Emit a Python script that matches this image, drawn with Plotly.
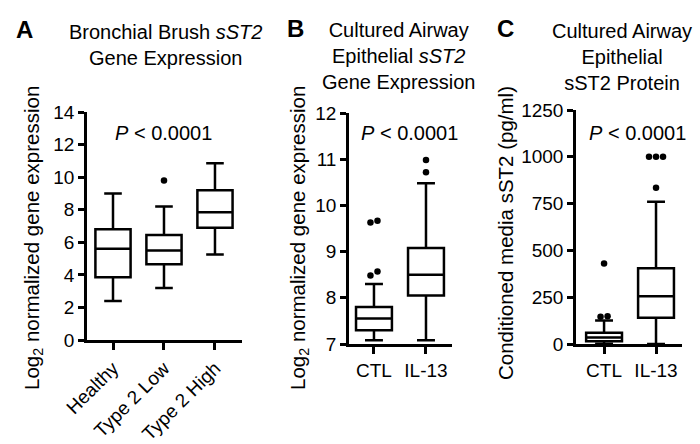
import plotly.graph_objects as go

# ---------------- data ----------------
a_cats = ["Healthy", "Type 2 Low", "Type 2 High"]
a_low = [2.4, 3.2, 5.25]
a_q1 = [3.85, 4.65, 6.9]
a_med = [5.6, 5.5, 7.85]
a_q3 = [6.8, 6.45, 9.2]
a_high = [9.0, 8.2, 10.85]
a_out = [[], [9.8], []]

b_cats = ["CTL", "IL-13"]
b_low = [7.08, 7.08]
b_q1 = [7.3, 8.05]
b_med = [7.55, 8.5]
b_q3 = [7.8, 9.08]
b_high = [8.3, 10.48]
b_out = [[9.67, 9.63, 8.48, 8.57], [10.72, 10.98]]

c_cats = ["CTL", "IL-13"]
c_low = [0, 0]
c_q1 = [15, 140]
c_med = [35, 255]
c_q3 = [60, 405]
c_high = [125, 760]
c_out = [[430, 145, 148], [1000, 1000, 1000, 835]]

a_ticks = [0, 2, 4, 6, 8, 10, 12, 14]
b_ticks = [7, 8, 9, 10, 11, 12]
c_ticks = [0, 250, 500, 750, 1000, 1250]

W, H = 700, 444
FONT = "Arial"
LW = 2.5
FS = 20
TFS = 19


def px(x):
    return x / W


def py(y):
    return 1 - y / H


fig = go.Figure()


def spread(vals, tol, step):
    """Return x offsets so that near-equal outliers sit side by side."""
    idx = sorted(range(len(vals)), key=lambda i: vals[i])
    clusters, cur = [], [idx[0]] if idx else []
    for i in idx[1:]:
        if abs(vals[i] - vals[cur[-1]]) < tol:
            cur.append(i)
        else:
            clusters.append(cur)
            cur = [i]
    if cur:
        clusters.append(cur)
    offs = [0.0] * len(vals)
    for cl in clusters:
        n = len(cl)
        for k, i in enumerate(cl):
            offs[i] = (k - (n - 1) / 2) * step
    return offs


panels = [
    dict(n="", cats=a_cats, low=a_low, q1=a_q1, med=a_med, q3=a_q3, high=a_high,
         out=a_out, ticks=a_ticks, rng=[0, 14], xr=[-0.51, 2.53],
         xd=[87, 242], yd=[340, 112], angle=-45),
    dict(n="2", cats=b_cats, low=b_low, q1=b_q1, med=b_med, q3=b_q3, high=b_high,
         out=b_out, ticks=b_ticks, rng=[7, 12], xr=[-0.48, 1.5],
         xd=[349, 452], yd=[344, 113], angle=0),
    dict(n="3", cats=c_cats, low=c_low, q1=c_q1, med=c_med, q3=c_q3, high=c_high,
         out=c_out, ticks=c_ticks, rng=[0, 1250], xr=[-0.54, 1.5],
         xd=[576, 682], yd=[344, 110], angle=0),
]

for p in panels:
    xa, ya = "x" + p["n"], "y" + p["n"]
    pos = list(range(len(p["cats"])))
    fig.add_trace(go.Box(
        x=pos, q1=p["q1"], median=p["med"], q3=p["q3"],
        lowerfence=p["low"], upperfence=p["high"],
        width=0.69, whiskerwidth=0.5, boxpoints=False,
        fillcolor="white", line=dict(color="black", width=LW),
        xaxis=xa, yaxis=ya, showlegend=False, hoverinfo="skip"))
    tol = (p["rng"][1] - p["rng"][0]) * 0.03
    ox, oy = [], []
    for i, vals in enumerate(p["out"]):
        if not vals:
            continue
        offs = spread(vals, tol, 0.135)
        for v, o in zip(vals, offs):
            ox.append(i + o)
            oy.append(v)
    if ox:
        fig.add_trace(go.Scatter(
            x=ox, y=oy, mode="markers",
            marker=dict(color="black", size=6.5),
            xaxis=xa, yaxis=ya, showlegend=False, hoverinfo="skip"))

    axis_common = dict(showline=True, linecolor="black", linewidth=LW,
                       ticks="outside", tickwidth=LW, tickcolor="black",
                       showgrid=False, zeroline=False, automargin=False,
                       tickfont=dict(family=FONT, size=TFS, color="black"))
    fig.update_layout(**{
        ("xaxis" + p["n"]): dict(
            domain=[px(p["xd"][0]), px(p["xd"][1])], range=p["xr"],
            tickvals=pos, ticktext=p["cats"], tickangle=p["angle"],
            ticklen=7, anchor=ya, fixedrange=True, **axis_common),
        ("yaxis" + p["n"]): dict(
            domain=[py(p["yd"][0]), py(p["yd"][1])], range=p["rng"],
            tickvals=p["ticks"], ticklen=6, anchor=xa, fixedrange=True,
            **axis_common),
    })

ann = []


def add_text(text, x, y, size=FS, bold=False, angle=0):
    ann.append(dict(text=("<b>%s</b>" % text) if bold else text,
                    x=px(x), y=py(y), xref="paper", yref="paper",
                    xanchor="center", yanchor="middle", showarrow=False,
                    textangle=angle,
                    font=dict(family=FONT, size=size, color="black")))


add_text("A", 24, 30, size=24, bold=True)
add_text("B", 295, 28, size=24, bold=True)
add_text("C", 505, 28, size=24, bold=True)

add_text("Bronchial Brush <i>sST2</i><br>Gene Expression", 165, 45)
add_text("Cultured Airway<br>Epithelial <i>sST2</i><br>Gene Expression", 398, 56)
add_text("Cultured Airway<br>Epithelial<br>sST2 Protein", 622, 57)

add_text("<i>P</i> < 0.0001", 163, 133)
add_text("<i>P</i> < 0.0001", 409, 133)
add_text("<i>P</i> < 0.0001", 637, 133)

add_text("Log<sub>2</sub> normalized gene expression", 33, 238, size=20.5, angle=-90)
add_text("Log<sub>2</sub> normalized gene expression", 299, 238, size=20.5, angle=-90)
add_text("Conditioned media sST2 (pg/ml)", 505, 233, size=20.5, angle=-90)

fig.update_layout(
    width=W, height=H, margin=dict(l=0, r=0, t=0, b=0, autoexpand=False),
    paper_bgcolor="white", plot_bgcolor="white",
    annotations=ann, showlegend=False,
    font=dict(family=FONT, color="black"),
)

fig.write_html("out.html")
